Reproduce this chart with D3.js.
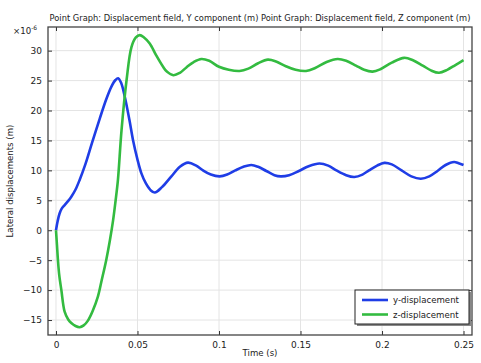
<!DOCTYPE html>
<html>
<head>
<meta charset="utf-8">
<script src="https://cdn.jsdelivr.net/npm/d3@7"></script>
<style>
  body { margin: 0; background: #fff; }
  text { font-family: "DejaVu Sans", sans-serif; fill: #222; }
</style>
</head>
<body>
<div id="chart"></div>
<script>
// 데이터: 시간 (s) 와 변위 (×10^-6 m)
const yTime = [0, 0.001, 0.0022, 0.0035, 0.0053, 0.0075, 0.0094, 0.012, 0.0145, 0.018, 0.022, 0.0269, 0.031, 0.034, 0.0365, 0.0381, 0.040, 0.0422, 0.045, 0.0473, 0.050, 0.0524, 0.055, 0.058, 0.0606, 0.065, 0.0708, 0.076, 0.081, 0.086, 0.0902, 0.095, 0.1004, 0.105, 0.110, 0.115, 0.1198, 0.124, 0.129, 0.134, 0.138, 0.143, 0.149, 0.155, 0.1616, 0.167, 0.172, 0.178, 0.183, 0.188, 0.192, 0.197, 0.2014, 0.206, 0.212, 0.218, 0.2238, 0.229, 0.234, 0.239, 0.2442, 0.247, 0.25];
const yDisp = [0, 1.5, 2.8, 3.6, 4.2, 4.9, 5.6, 6.8, 8.4, 11, 14.5, 18.7, 22, 24, 25.1, 25.4, 24.6, 22.3, 18.5, 15.0, 11.8, 9.5, 7.9, 6.7, 6.3, 7.2, 9.0, 10.6, 11.3, 10.8, 10.0, 9.3, 9.0, 9.3, 10.0, 10.6, 10.9, 10.6, 9.9, 9.2, 9.0, 9.2, 9.9, 10.7, 11.15, 10.8, 10.0, 9.2, 8.9, 9.3, 10.0, 10.8, 11.25, 11.0, 10.0, 9.0, 8.6, 9.0, 9.9, 10.9, 11.4, 11.2, 10.9];

const zTime = [0, 0.0006, 0.0012, 0.002, 0.0033, 0.0053, 0.0075, 0.0094, 0.012, 0.0145, 0.017, 0.0196, 0.0225, 0.0257, 0.028, 0.0308, 0.033, 0.035, 0.0365, 0.038, 0.0402, 0.0433, 0.0463, 0.049, 0.0514, 0.054, 0.0575, 0.0615, 0.0657, 0.068, 0.072, 0.076, 0.080, 0.0845, 0.0892, 0.094, 0.100, 0.106, 0.1126, 0.118, 0.124, 0.13, 0.135, 0.141, 0.147, 0.1534, 0.159, 0.166, 0.1728, 0.178, 0.184, 0.189, 0.1942, 0.199, 0.206, 0.2136, 0.219, 0.225, 0.230, 0.235, 0.240, 0.245, 0.25];
const zDisp = [0, -2.5, -5, -7.5, -10, -13.6, -14.9, -15.5, -16.0, -16.2, -15.9, -15.1, -13.5, -11.1, -8.4, -5, -1.8, 1.6, 4.8, 8.4, 16.7, 25.1, 30.6, 32.2, 32.6, 32.2, 31.2, 29.2, 27.3, 26.5, 25.9, 26.3, 27.2, 28.1, 28.6, 28.3, 27.3, 26.8, 26.6, 27.0, 27.9, 28.5, 28.2, 27.4, 26.8, 26.6, 27.1, 28.1, 28.6, 28.3, 27.5, 26.8, 26.5, 26.9, 28.0, 28.8, 28.4, 27.5, 26.7, 26.3, 26.8, 27.6, 28.4];

const xTicks = [0, 0.05, 0.1, 0.15, 0.2, 0.25];
const yTicks = [-15, -10, -5, 0, 5, 10, 15, 20, 25, 30];
const seriesNames = ["y-displacement", "z-displacement"];
const seriesColors = ["#1f3de6", "#33bb40"];

// 1. SVG 설정
const width = 481, height = 363;
const margin = { left: 48, right: 9, top: 27, bottom: 28 };

const svg = d3.select("#chart").append("svg")
    .attr("width", width)
    .attr("height", height);

const x = d3.scaleLinear().domain([-0.0049, 0.2552]).range([margin.left, width - margin.right]);
const y = d3.scaleLinear().domain([-17.5, 33.95]).range([height - margin.bottom, margin.top]);

// 그리드
svg.append("g").selectAll("line").data(xTicks).enter().append("line")
    .attr("x1", d => x(d)).attr("x2", d => x(d))
    .attr("y1", margin.top).attr("y2", height - margin.bottom)
    .attr("stroke", "#e4e4e4").attr("stroke-width", 1);
svg.append("g").selectAll("line").data(yTicks).enter().append("line")
    .attr("y1", d => y(d)).attr("y2", d => y(d))
    .attr("x1", margin.left).attr("x2", width - margin.right)
    .attr("stroke", "#e4e4e4").attr("stroke-width", 1);

// 2. 곡선
const series = [
    yTime.map((t, i) => [t, yDisp[i]]),
    zTime.map((t, i) => [t, zDisp[i]])
];
const line = d3.line().x(d => x(d[0])).y(d => y(d[1])).curve(d3.curveCatmullRom.alpha(0.5));

svg.append("g").selectAll("path").data(series).enter().append("path")
    .attr("d", line)
    .attr("fill", "none")
    .attr("stroke", (d, i) => seriesColors[i])
    .attr("stroke-width", 2.6)
    .attr("stroke-linejoin", "round");

// 3. 축 (네 방향 모두 안쪽 눈금)
const tick = 4;
const bottomAxis = d3.axisBottom(x).tickValues(xTicks).tickSize(-tick).tickPadding(7).tickFormat(d3.format("~g"));
const topAxis = d3.axisTop(x).tickValues(xTicks).tickSize(-tick).tickFormat("");
const leftAxis = d3.axisLeft(y).tickValues(yTicks).tickSize(-tick).tickPadding(6).tickFormat(d3.format("~g"));
const rightAxis = d3.axisRight(y).tickValues(yTicks).tickSize(-tick).tickFormat("");

function styleAxis(g) {
    g.select(".domain").remove();
    g.selectAll(".tick line").attr("stroke", "#333");
    g.selectAll(".tick text").style("font-size", "9px").style("font-family", "DejaVu Sans, sans-serif").attr("fill", "#222");
}

svg.append("g").attr("transform", `translate(0,${height - margin.bottom})`).call(bottomAxis).call(styleAxis);
svg.append("g").attr("transform", `translate(0,${margin.top})`).call(topAxis).call(styleAxis);
svg.append("g").attr("transform", `translate(${margin.left},0)`).call(leftAxis).call(styleAxis);
svg.append("g").attr("transform", `translate(${width - margin.right},0)`).call(rightAxis).call(styleAxis);

// 테두리
svg.append("rect")
    .attr("x", margin.left).attr("y", margin.top)
    .attr("width", width - margin.left - margin.right)
    .attr("height", height - margin.top - margin.bottom)
    .attr("fill", "none").attr("stroke", "#444").attr("stroke-width", 1.3);

// 4. 텍스트
svg.append("text")
    .attr("x", (margin.left + width - margin.right) / 2).attr("y", 21)
    .attr("text-anchor", "middle").style("font-size", "8.3px")
    .text("Point Graph: Displacement field, Y component (m)  Point Graph: Displacement field, Z component (m)");

const expo = svg.append("text").attr("x", 13).attr("y", 34).style("font-size", "8.6px");
expo.append("tspan").text("×10");
expo.append("tspan").attr("dy", -4).style("font-size", "6px").text("-6");

svg.append("text")
    .attr("x", (margin.left + width - margin.right) / 2).attr("y", 356)
    .attr("text-anchor", "middle").style("font-size", "8.6px")
    .text("Time (s)");

svg.append("text")
    .attr("transform", `translate(13,${(margin.top + height - margin.bottom) / 2}) rotate(-90)`)
    .attr("text-anchor", "middle").style("font-size", "8.6px")
    .text("Lateral displacements (m)");

// 5. 범례
const lg = svg.append("g").attr("transform", "translate(355,290)");
lg.append("rect").attr("x", 2).attr("y", 2).attr("width", 114).attr("height", 34).attr("fill", "#888");
lg.append("rect").attr("width", 114).attr("height", 34).attr("fill", "#fff").attr("stroke", "#222").attr("stroke-width", 1);
seriesNames.forEach((name, i) => {
    const yy = 10 + i * 14.5;
    lg.append("line").attr("x1", 7).attr("x2", 33).attr("y1", yy).attr("y2", yy)
        .attr("stroke", seriesColors[i]).attr("stroke-width", 2.6);
    lg.append("text").attr("x", 38).attr("y", yy + 3).style("font-size", "8.6px").text(name);
});
</script>
</body>
</html>
